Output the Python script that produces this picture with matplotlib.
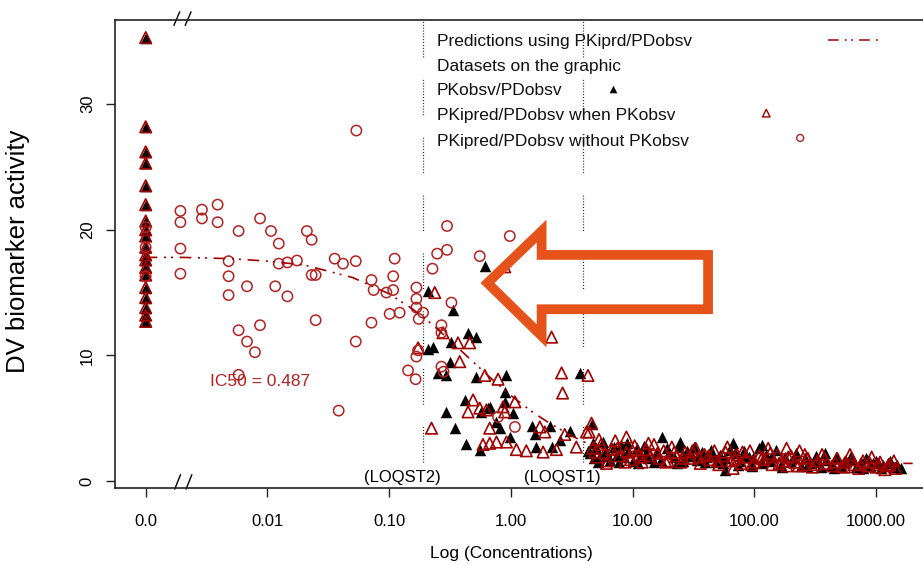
import numpy as np
import matplotlib
matplotlib.use("Agg")
import matplotlib.pyplot as plt
from matplotlib import font_manager
from matplotlib.patches import Polygon

# zero concentrations are put at this spot on the log axis (left of the break)
ZERO_POS = 0.001

ic50 = 0.487
loq2 = 0.19   # LOQST2
loq1 = 3.9    # LOQST1

# model prediction (PKiprd/PDobsv)
pred_conc = [0, 0.002, 0.005, 0.01, 0.02, 0.05, 0.1, 0.15, 0.2, 0.3, 0.5, 0.7,
             1, 1.5, 2, 3, 4, 6, 10, 20, 50, 100, 300, 1000, 2000]
pred_act = [17.8, 17.8, 17.7, 17.5, 17.2, 16.2, 14.9, 13.8, 12.9, 11.4, 9.4, 8.1,
            6.8, 5.5, 4.7, 3.7, 3.1, 2.5, 2.1, 1.8, 1.6, 1.5, 1.45, 1.4, 1.4]

# observations at concentration 0
zero_obs_act = [35.3, 28.2, 26.2, 25.3, 23.5, 22.0, 20.7, 20.0, 19.5, 18.6, 18.0,
                17.6, 17.0, 16.4, 15.4, 14.6, 13.8, 13.2, 12.7]
zero_circ_act = [20.2, 18.6, 16.3]

# PKipred/PDobsv without PKobsv
circ_conc = [0.00193, 0.00193, 0.00193, 0.00193, 0.0029, 0.0029, 0.0039, 0.0039,
             0.0058, 0.0087, 0.0107, 0.0124, 0.0048, 0.0048, 0.0048, 0.0068,
             0.0116, 0.0146, 0.0124, 0.0146, 0.0175, 0.0211, 0.0231, 0.0231,
             0.0249, 0.0249, 0.0058, 0.0087, 0.0068, 0.0079, 0.0058, 0.0385,
             0.0357, 0.0418, 0.0532, 0.111, 0.108, 0.108, 0.0716, 0.0746,
             0.095, 0.101, 0.122, 0.0716, 0.0532, 0.1675, 0.1675, 0.1675,
             0.1675, 0.143, 0.165, 0.0538, 0.299, 0.98, 0.299, 0.248,
             0.555, 0.227, 0.325, 0.269, 0.269, 0.173, 0.269, 0.28,
             0.785, 1.08, 0.175, 0.19]
circ_act = [21.5, 20.6, 18.5, 16.5, 21.6, 20.9, 22.0, 20.6,
            19.9, 20.9, 19.9, 18.9, 17.5, 16.3, 14.8, 15.5,
            15.5, 14.7, 17.3, 17.4, 17.55, 19.9, 19.2, 16.4,
            16.4, 12.8, 12.0, 12.4, 11.1, 10.25, 8.45, 5.6,
            17.7, 17.3, 17.5, 17.7, 16.3, 15.2, 16.0, 15.2,
            15.0, 13.3, 13.4, 12.6, 11.1, 15.4, 14.5, 13.8,
            9.9, 8.8, 8.1, 27.9, 20.3, 19.5, 18.4, 18.1,
            17.9, 16.9, 14.2, 12.4, 11.8, 10.4, 9.1, 8.7,
            5.1, 4.3, 12.9, 13.4]

# PKobsv/PDobsv
obs_conc = [0.611, 0.209, 0.335, 0.446, 0.521, 0.23, 0.209, 0.325, 0.315, 0.252,
            0.296, 0.521, 0.92, 3.68, 0.418, 0.65, 0.89, 0.89, 1.04, 0.296,
            0.346, 0.431, 0.555, 0.762, 0.81, 0.98, 1.48, 1.57, 2.09, 3.05,
            2.52, 2.16, 4.6, 0.573, 0.67, 1.62,
            4.3, 4.5, 4.8, 5.0, 5.4, 5.7, 6.0, 6.5, 7.0, 7.4, 8.0, 8.5, 9.2, 10,
            10.8, 11.5, 12.5, 13.5, 17.3, 16, 17, 24.4, 20, 22, 24, 26, 28, 31,
            34, 37, 40, 44, 48, 52, 57, 67, 57, 70, 76, 82, 90, 98, 115, 115,
            125, 135, 150, 165, 180, 200, 220, 240, 260, 290, 320, 350, 390,
            430, 470, 520, 570, 620, 680, 750, 820, 900, 1000, 1100, 1250,
            1400, 1600,
            4.7, 5.2, 6.2, 7.7, 9.0, 11, 13, 15, 19, 23, 27, 32, 39, 46, 55,
            63, 73, 86, 95, 110, 140, 170, 210, 270, 330, 380, 450, 540, 650,
            780, 950, 1150, 1300, 1500]
obs_act = [17.1, 15.1, 13.6, 11.8, 11.45, 10.7, 10.5, 11.1, 9.5, 8.6,
           8.45, 8.3, 8.4, 8.6, 6.45, 5.8, 7.1, 6.3, 5.4, 5.5,
           4.2, 2.95, 2.5, 4.7, 4.2, 3.5, 4.4, 3.7, 4.4, 4.0,
           3.3, 2.7, 4.5, 5.5, 5.9, 2.7,
           2.4, 2.2, 1.8, 2.6, 2.0, 3.1, 2.4, 1.7, 2.7, 2.1, 2.9, 1.9, 2.4, 1.6,
           2.6, 2.0, 2.8, 1.8, 3.5, 2.3, 1.7, 3.1, 2.2, 1.9, 2.7, 1.6, 2.4, 2.0,
           1.7, 2.3, 1.9, 2.5, 1.5, 2.1, 0.9, 3.0, 1.8, 2.2, 1.6, 2.4, 1.9, 1.8, 2.9, 1.4,
           2.1, 1.6, 2.5, 1.3, 1.9, 1.5, 2.2, 1.2, 1.8, 1.4, 2.0, 1.1, 1.7,
           1.3, 1.9, 1.2, 1.6, 2.0, 1.1, 1.5, 1.8, 1.2, 1.6, 1.0, 1.4,
           1.1, 1.0,
           3.0, 1.5, 2.0, 1.5, 3.0, 1.4, 2.2, 1.5, 2.6, 1.4, 2.0, 2.7, 1.5, 2.0, 1.4,
           2.5, 1.3, 2.0, 1.2, 2.6, 2.0, 1.1, 1.8, 1.2, 1.5, 2.2, 1.0, 1.4, 1.7,
           1.0, 1.4, 1.3, 1.6, 1.3]

# PKipred/PDobsv when PKobsv
ipred_conc = [0.223, 2.16, 2.61, 2.66, 4.3, 0.173, 0.277, 0.368, 0.459, 0.38,
              0.611, 0.785, 0.489, 0.555, 0.63, 0.445, 0.89, 1.08, 0.863, 0.67,
              0.59, 0.67, 0.762, 0.92, 1.11, 1.34, 1.73, 1.9, 1.84, 2.37,
              2.77, 3.45, 4.18, 4.6, 0.89, 0.237,
              4.4, 4.7, 5.1, 5.5, 5.9, 6.3, 6.8, 7.2, 7.8, 8.9, 8.9, 9.6, 10.4,
              11.2, 12, 13, 14, 15, 16.5, 18, 19.5, 21, 23, 25, 27, 30, 33, 36,
              39, 43, 47, 51, 55, 60, 65, 67, 72, 78, 85, 92, 100, 110, 120, 130,
              140, 155, 170, 184, 185, 200, 215, 235, 255, 275, 300, 330, 360,
              395, 440, 480, 520, 560, 610, 660, 720, 780, 850, 920, 1000, 1080,
              1180, 1300, 1450,
              4.9, 5.3, 6.1, 7.5, 8.7, 10, 11.8, 13.5, 16, 18.8, 22, 26, 31, 35,
              42, 50, 58, 70, 80, 95, 115, 135, 160, 190, 230, 260, 320, 380,
              460, 550, 640, 750, 880, 1050, 1250, 1400]
ipred_act = [4.2, 11.45, 8.6, 7.0, 8.4, 10.6, 11.8, 11.0, 11.0, 9.5,
             8.4, 8.1, 6.45, 5.8, 5.65, 5.5, 5.5, 6.3, 5.9, 4.2,
             2.9, 3.0, 3.1, 3.1, 2.5, 2.4, 4.3, 3.9, 2.3, 2.5,
             3.7, 2.7, 3.9, 4.6, 17.05, 15.0,
             3.9, 2.6, 1.9, 2.9, 2.2, 1.6, 2.5, 3.2, 2.0, 3.5, 2.3, 1.7, 2.8,
             2.1, 1.5, 2.5, 2.0, 2.9, 1.8, 2.4, 1.6, 2.7, 2.0, 1.5, 2.3, 1.8, 2.6, 1.4,
             2.1, 1.7, 2.4, 1.3, 2.0, 2.7, 1.6, 1.0, 2.1, 1.4, 1.9, 2.4, 1.5, 2.0, 1.7, 2.6,
             1.3, 2.1, 1.6, 2.6, 1.2, 2.0, 1.5, 2.4, 1.3, 1.8, 1.1, 1.6, 2.1,
             1.4, 1.2, 1.8, 1.15, 1.5, 2.1, 1.3, 1.0, 1.6, 1.2, 1.9, 1.1, 1.5,
             0.9, 1.3, 1.0,
             2.3, 3.3, 1.4, 2.6, 1.5, 2.4, 1.9, 3.0, 2.2, 1.5, 2.3, 1.8, 2.4, 1.9,
             2.0, 1.6, 2.3, 1.7, 2.3, 1.3, 1.8, 2.2, 1.4, 1.9, 1.2, 2.1, 1.3, 1.8,
             1.5, 1.1, 1.7, 1.3, 1.5, 1.3, 1.2, 1.6]

xtick_vals = [ZERO_POS, 0.01, 0.1, 1, 10, 100, 1000]
xtick_labels = ["0.0", "0.01", "0.10", "1.00", "10.00", "100.00", "1000.00"]
ytick_vals = [0, 10, 20, 30]

legend_labels = ["Predictions using PKiprd/PDobsv", "Datasets on the graphic",
                 "PKobsv/PDobsv", "PKipred/PDobsv when PKobsv",
                 "PKipred/PDobsv without PKobsv"]

RED = "#b22222"
DARKRED = "#a00000"
ORANGE = "#e5531a"

names = {f.name for f in font_manager.fontManager.ttflist}
narrow = "Liberation Sans Narrow" if "Liberation Sans Narrow" in names else "Liberation Sans"
plt.rcParams["font.family"] = ["Liberation Sans", "DejaVu Sans"]


def pos(c):
    c = np.asarray(c, dtype=float)
    return np.where(c == 0, ZERO_POS, c)


fig = plt.figure(figsize=(9.23, 5.65), dpi=100)
ax = fig.add_axes([0.1246, 0.1363, 0.8754, 0.8283])
ax.set_xscale("log")
ax.set_xlim(5.6e-4, 2.43e3)
ax.set_ylim(-0.56, 36.7)

tri = 68
circ = 55
# zero column: black filled with red open on top
zx = np.full(len(zero_obs_act), ZERO_POS)
ax.scatter(zx, zero_obs_act, marker="^", s=tri, color="black", lw=0, zorder=3)
ax.scatter(zx, zero_obs_act, marker="^", s=tri, facecolor="none", edgecolor=DARKRED, lw=1.2, zorder=4)
ax.scatter(np.full(len(zero_circ_act), ZERO_POS), zero_circ_act, marker="o", s=circ,
           facecolor="none", edgecolor=RED, lw=1.1, zorder=4)

ax.scatter(pos(obs_conc), obs_act, marker="^", s=tri, color="black", lw=0, zorder=3)
ax.scatter(pos(ipred_conc), ipred_act, marker="^", s=tri, facecolor="none",
           edgecolor=DARKRED, lw=1.2, zorder=4)
ax.scatter(pos(circ_conc), circ_act, marker="o", s=circ, facecolor="none",
           edgecolor=RED, lw=1.1, zorder=4)

ax.plot(pos(pred_conc), pred_act, color=DARKRED, lw=1.2,
        dashes=(7, 4, 1.2, 3, 1.2, 4), zorder=5)

# LOQ lines
dot_pat = (0.7, 1.6) * 12 + (0.7, 18)
for loq in (loq2, loq1):
    ax.plot([loq, loq], [1.5, 36.7], color="black", lw=0.9, dashes=dot_pat, zorder=2)

ax.text(ic50 / 145, 7.9, f"IC50 = {ic50}", color=RED, fontsize=12.5,
        ha="left", va="center")
ax.text(0.129, 0.25, "(LOQST2)", fontsize=12, ha="center", va="center")
ax.text(2.67, 0.25, "(LOQST1)", fontsize=12, ha="center", va="center")

# legend drawn by hand (R style)
leg_y = [0.953, 0.900, 0.850, 0.797, 0.741]
for yy, lab in zip(leg_y, legend_labels):
    ax.text(0.3985, yy, lab, transform=ax.transAxes, fontsize=12.5,
            ha="left", va="center", color="#111111")
ax.plot([0.882, 0.949], [0.957, 0.957], transform=ax.transAxes, color=DARKRED,
        lw=1.1, dashes=(7, 4, 1.2, 3, 1.2, 4))
ax.scatter([0.616], [0.853], transform=ax.transAxes, marker="^", s=30, color="black", lw=0)
ax.scatter([0.806], [0.801], transform=ax.transAxes, marker="^", s=30,
           facecolor="none", edgecolor=DARKRED, lw=1.0)
ax.scatter([0.848], [0.748], transform=ax.transAxes, marker="o", s=25,
           facecolor="none", edgecolor=RED, lw=1.0)

# hollow arrow
arrow = [(0.461, 0.438), (0.528, 0.549), (0.528, 0.498), (0.734, 0.498),
         (0.734, 0.382), (0.528, 0.382), (0.528, 0.325)]
ax.add_patch(Polygon(arrow, closed=True, fill=False, edgecolor=ORANGE, lw=7,
                     joinstyle="miter", transform=ax.transAxes, zorder=6))

# axis break marks
for x0 in (0.073, 0.087):
    ax.plot([x0, x0 + 0.007], [0.989, 1.017], transform=ax.transAxes,
            color="black", lw=1.0, clip_on=False)
    ax.plot([x0 + 0.001, x0 + 0.008], [-0.002, 0.028], transform=ax.transAxes,
            color="black", lw=1.0, clip_on=False)

ax.spines["right"].set_visible(False)
for sp in ("left", "top", "bottom"):
    ax.spines[sp].set_linewidth(1.2)
    ax.spines[sp].set_color("#222222")

ax.set_xticks(xtick_vals)
ax.set_xticklabels(xtick_labels, fontfamily=narrow)
ax.xaxis.set_minor_locator(matplotlib.ticker.NullLocator())
ax.set_yticks(ytick_vals)
ax.set_yticklabels([str(v) for v in ytick_vals], fontfamily=narrow,
                   rotation=90, va="center")
ax.tick_params(axis="both", length=6.5, width=1.0, labelsize=12, color="#222222")
ax.tick_params(axis="x", pad=12)
ax.tick_params(axis="y", pad=8)

ax.set_xlabel("Log (Concentrations)", fontfamily=narrow, fontsize=12.5)
ax.xaxis.set_label_coords(0.491, -0.125)
ax.set_ylabel("DV biomarker activity", fontsize=18.5)
ax.yaxis.set_label_coords(-0.105, 0.506)

fig.savefig("out.png", dpi=100)
